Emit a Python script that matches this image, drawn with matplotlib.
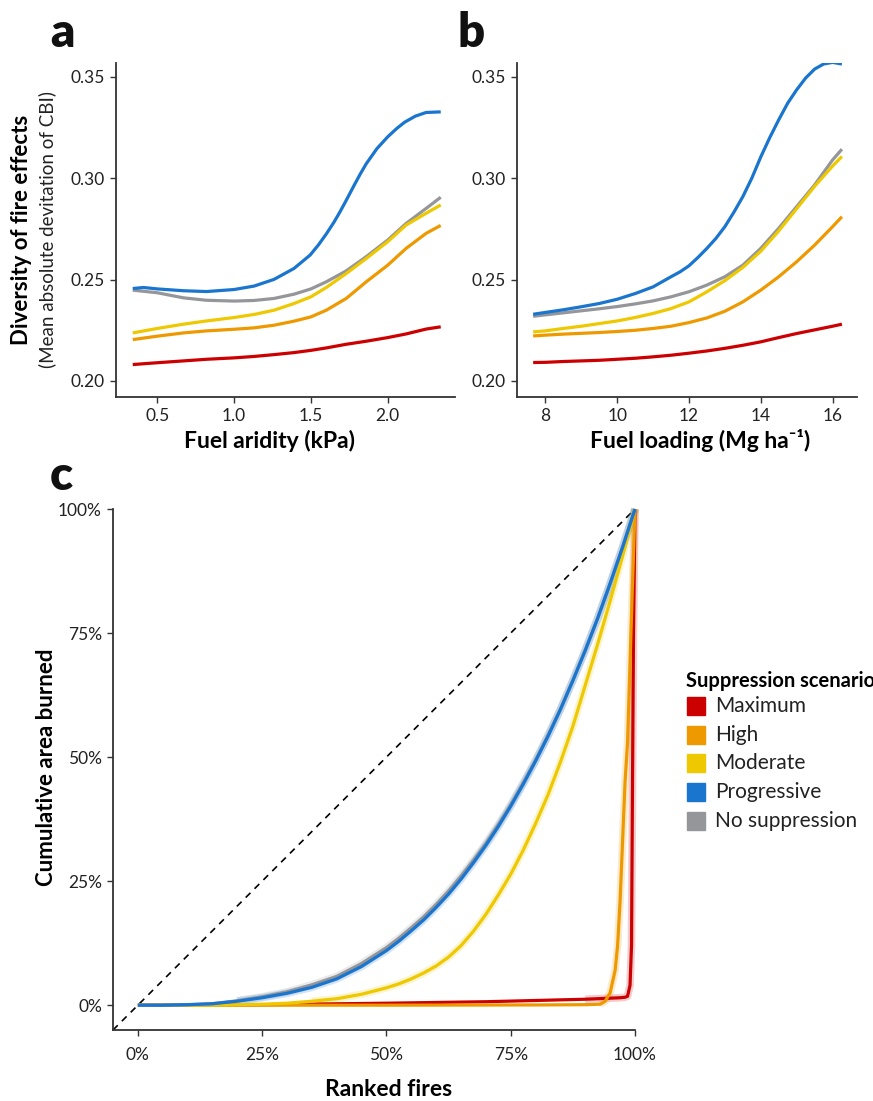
import matplotlib.pyplot as plt
from matplotlib.patches import Rectangle
from matplotlib.ticker import FuncFormatter

plt.rcParams['font.family'] = ['Lato', 'DejaVu Sans']

scenarios = ['Maximum', 'High', 'Moderate', 'Progressive', 'No suppression']
colors = ['#cc0000', '#ee9900', '#eec800', '#1a75cf', '#95969a']

# panel a: fuel aridity (kPa)
aridity = [0.34, 0.50, 0.67, 0.82, 1.00, 1.13, 1.26, 1.39, 1.50, 1.60, 1.73, 1.86, 2.00, 2.12, 2.25, 2.345]
a_max = [0.2081, 0.2090, 0.2099, 0.2107, 0.2114, 0.2121, 0.2130, 0.2140, 0.2151, 0.2163, 0.2181, 0.2196, 0.2214, 0.2232, 0.2256, 0.2267]
a_high = [0.2204, 0.2221, 0.2237, 0.2247, 0.2255, 0.2262, 0.2275, 0.2295, 0.2316, 0.2349, 0.2407, 0.2489, 0.2571, 0.2654, 0.2728, 0.2767]
a_mod = [0.2237, 0.2259, 0.2280, 0.2296, 0.2313, 0.2328, 0.2349, 0.2382, 0.2415, 0.2461, 0.2530, 0.2604, 0.2687, 0.2769, 0.2827, 0.2868]
a_none = [0.2448, 0.2435, 0.2410, 0.2398, 0.2394, 0.2397, 0.2407, 0.2428, 0.2454, 0.2489, 0.2543, 0.2613, 0.2695, 0.2777, 0.2851, 0.2906]
# progressive curve read at a finer spacing (it bends sharply)
aridity_prog = [0.34, 0.41, 0.50, 0.67, 0.82, 1.00, 1.13, 1.26, 1.39, 1.495, 1.55, 1.60, 1.65, 1.69, 1.73, 1.78, 1.82,
                1.86, 1.93, 2.00, 2.06, 2.11, 2.18, 2.25, 2.345]
a_prog = [0.2456, 0.2461, 0.2454, 0.2445, 0.2441, 0.2451, 0.2468, 0.2501, 0.2555, 0.2621, 0.2672, 0.2725, 0.2783,
          0.2835, 0.2891, 0.2963, 0.3019, 0.3071, 0.3146, 0.3204, 0.3246, 0.3276, 0.3306, 0.3324, 0.3327]

# panel b: fuel loading (Mg/ha)
loading = [7.66, 8, 8.5, 9, 9.5, 10, 10.5, 11, 11.5, 12, 12.5, 13, 13.5, 14, 14.5, 15, 15.5, 16, 16.26]
b_max = [0.2091, 0.2092, 0.2096, 0.2099, 0.2102, 0.2107, 0.2112, 0.2119, 0.2127, 0.2137, 0.2148, 0.2161, 0.2176, 0.2193, 0.2214, 0.2234, 0.2252, 0.2270, 0.2280]
b_high = [0.2222, 0.2226, 0.2231, 0.2235, 0.2239, 0.2244, 0.2250, 0.2259, 0.2270, 0.2288, 0.2311, 0.2344, 0.2390, 0.2448, 0.2514, 0.2588, 0.2670, 0.2761, 0.2810]
b_mod = [0.2242, 0.2247, 0.2259, 0.2270, 0.2283, 0.2296, 0.2313, 0.2333, 0.2357, 0.2390, 0.2440, 0.2495, 0.2560, 0.2640, 0.2740, 0.2850, 0.2960, 0.3060, 0.3107]
b_none = [0.2319, 0.2326, 0.2336, 0.2346, 0.2356, 0.2367, 0.2380, 0.2395, 0.2415, 0.2440, 0.2473, 0.2514, 0.2571, 0.2654, 0.2753, 0.2860, 0.2967, 0.3090, 0.3143]
loading_prog = [7.66, 8, 8.5, 9, 9.5, 10, 10.5, 11, 11.5, 11.75, 12, 12.25, 12.5, 12.75, 13, 13.25, 13.5, 13.75, 14,
                14.25, 14.5, 14.75, 15, 15.25, 15.5, 15.75, 16, 16.26]
b_prog = [0.2329, 0.2338, 0.2351, 0.2366, 0.2382, 0.2403, 0.2431, 0.2464, 0.2514, 0.2538, 0.2568, 0.2609, 0.2654,
          0.2703, 0.2761, 0.2832, 0.2909, 0.3000, 0.3105, 0.3200, 0.3288, 0.3370, 0.3436, 0.3494, 0.3538, 0.3563,
          0.3571, 0.3563]

# panel c: cumulative area burned vs ranked fires
ranked = [0, 0.05, 0.1, 0.15, 0.2, 0.25, 0.3, 0.35, 0.4, 0.45, 0.5, 0.525, 0.55, 0.575, 0.6, 0.625, 0.65, 0.675,
          0.7, 0.725, 0.75, 0.775, 0.8, 0.825, 0.85, 0.875, 0.9, 0.925, 0.95, 0.975, 1.0]
c_mod = [0, 0, 0, 0, 0.001, 0.002, 0.004, 0.008, 0.013, 0.022, 0.035, 0.043, 0.053, 0.065, 0.079, 0.097, 0.120,
         0.149, 0.183, 0.222, 0.264, 0.312, 0.366, 0.424, 0.490, 0.562, 0.645, 0.728, 0.815, 0.905, 1.0]
c_prog = [0, 0.0, 0.001, 0.003, 0.008, 0.015, 0.024, 0.036, 0.053, 0.078, 0.110, 0.129, 0.150, 0.172, 0.197, 0.224,
          0.254, 0.287, 0.322, 0.360, 0.401, 0.445, 0.492, 0.542, 0.596, 0.654, 0.715, 0.780, 0.850, 0.923, 1.0]
c_none = [0, 0.0, 0.001, 0.003, 0.009, 0.017, 0.027, 0.041, 0.058, 0.084, 0.116, 0.135, 0.156, 0.178, 0.203, 0.230,
          0.260, 0.292, 0.326, 0.364, 0.404, 0.448, 0.494, 0.544, 0.597, 0.655, 0.716, 0.780, 0.850, 0.923, 1.0]
high_x = [0, 0.5, 0.8, 0.9, 0.93, 0.94, 0.95, 0.96, 0.965, 0.97, 0.975, 0.98, 0.985, 0.99, 0.995, 1.0]
c_high = [0, 0.0, 0.0005, 0.001, 0.002, 0.008, 0.025, 0.07, 0.12, 0.21, 0.33, 0.45, 0.53, 0.69, 0.85, 1.0]
max_x = [0, 0.25, 0.5, 0.7, 0.9, 0.97, 0.98, 0.985, 0.99, 0.993, 0.995, 0.997, 1.0]
c_max = [0, 0.001, 0.004, 0.007, 0.012, 0.015, 0.016, 0.018, 0.04, 0.12, 0.45, 0.75, 1.0]

W, H = 873, 1101
fig = plt.figure(figsize=(W / 100, H / 100), dpi=100)


def style(ax):
    for s in ['top', 'right']:
        ax.spines[s].set_visible(False)
    for s in ['left', 'bottom']:
        ax.spines[s].set_color('#333333')
        ax.spines[s].set_linewidth(1.3)
    ax.tick_params(length=4, width=1, color='#333333', labelsize=12.5, labelcolor='#222222', pad=4)


ax_a = fig.add_axes([116 / W, 1 - 397 / H, (455 - 116) / W, (397 - 63) / H])
ax_b = fig.add_axes([517 / W, 1 - 397 / H, (857 - 517) / W, (397 - 63) / H])
ax_c = fig.add_axes([113 / W, 1 - 1030 / H, (635 - 113) / W, (1030 - 509) / H])

series_a = [(aridity, a_none, 4), (aridity, a_max, 0), (aridity, a_high, 1), (aridity, a_mod, 2),
            (aridity_prog, a_prog, 3)]
series_b = [(loading, b_none, 4), (loading, b_max, 0), (loading, b_high, 1), (loading, b_mod, 2),
            (loading_prog, b_prog, 3)]
for xs, ys, i in series_a:
    ax_a.plot(xs, ys, color=colors[i], lw=2.3, solid_capstyle='butt', solid_joinstyle='round')
for xs, ys, i in series_b:
    ax_b.plot(xs, ys, color=colors[i], lw=2.3, solid_capstyle='butt', solid_joinstyle='round')

for ax in [ax_a, ax_b]:
    style(ax)
    ax.set_ylim(0.1921, 0.3568)
    ax.set_yticks([0.20, 0.25, 0.30, 0.35])
    ax.yaxis.set_major_formatter(FuncFormatter(lambda v, p: '%.2f' % v))
ax_a.set_xlim(0.231, 2.438)
ax_a.set_xticks([0.5, 1.0, 1.5, 2.0])
ax_a.xaxis.set_major_formatter(FuncFormatter(lambda v, p: '%.1f' % v))
ax_b.set_xlim(7.21, 16.68)
ax_b.set_xticks([8, 10, 12, 14, 16])

# panel c
ax_c.plot([-0.05, 1.0], [-0.05, 1.0], color='black', lw=1.2, ls=(0, (4, 3.5)))
c_series = [(max_x, c_max, 0, 0.75), (high_x, c_high, 1, 0.92), (ranked, c_mod, 2, 0.35),
            (ranked, c_none, 4, 0.2), (ranked, c_prog, 3, 0.2)]
# faint confidence bands, only where the curves leave zero
for xs, ys, i, start in c_series:
    bx = [x for x in xs if x >= start]
    by = [y for x, y in zip(xs, ys) if x >= start]
    ax_c.plot(bx, by, color=colors[i], lw=5.5, alpha=0.2, clip_on=False,
              solid_capstyle='butt', solid_joinstyle='round')
for xs, ys, i, start in c_series:
    ax_c.plot(xs, ys, color=colors[i], lw=2.3, clip_on=False,
              solid_capstyle='butt', solid_joinstyle='round')
style(ax_c)
ax_c.set_xlim(-0.05, 1.0)
ax_c.set_ylim(-0.05, 1.0)
ticks = [0, 0.25, 0.5, 0.75, 1.0]
ax_c.set_xticks(ticks)
ax_c.set_yticks(ticks)
pct = FuncFormatter(lambda v, p: '%d%%' % round(v * 100))
ax_c.xaxis.set_major_formatter(pct)
ax_c.yaxis.set_major_formatter(pct)
ax_c.tick_params(axis='x', pad=8)

# labels
fig.text(22 / W, 1 - 230 / H, 'Diversity of fire effects', rotation=90, ha='center', va='center',
         fontsize=16, fontweight='bold')
fig.text(47 / W, 1 - 230 / H, '(Mean absolute devitation of CBI)', rotation=90, ha='center',
         va='center', fontsize=13.5, color='#222222')
fig.text(269 / W, 1 - 441 / H, 'Fuel aridity (kPa)', ha='center', va='center', fontsize=16.5,
         fontweight='bold')
fig.text(700 / W, 1 - 441 / H, 'Fuel loading (Mg ha\u207b\u00b9)', ha='center', va='center',
         fontsize=16.5, fontweight='bold')
fig.text(47 / W, 1 - 767 / H, 'Cumulative area burned', rotation=90, ha='center', va='center',
         fontsize=16, fontweight='bold')
fig.text(389 / W, 1 - 1090 / H, 'Ranked fires', ha='center', va='center', fontsize=16.5,
         fontweight='bold')

for letter, x, y in [('a', 50, 47), ('b', 458, 47), ('c', 50, 490)]:
    fig.text(x / W, 1 - y / H, letter, ha='left', va='baseline', fontsize=34, fontweight='heavy',
             color='#111111')

# legend
fig.text(686 / W, 1 - 687 / H, 'Suppression scenario', ha='left', va='baseline', fontsize=14.5,
         fontweight='bold')
for k, name in enumerate(scenarios):
    yc = 706 + k * 28.7
    fig.patches.append(Rectangle((687 / W, 1 - (yc + 9) / H), 18 / W, 18 / H, color=colors[k],
                                 transform=fig.transFigure, figure=fig))
    fig.text(715 / W, 1 - yc / H, name, ha='left', va='center', fontsize=15, color='#222222')

fig.savefig('out.png', dpi=100)
